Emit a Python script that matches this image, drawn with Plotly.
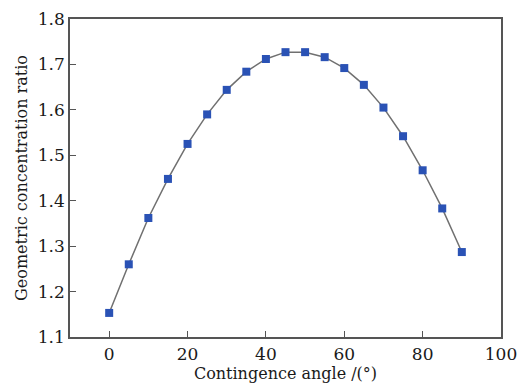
import plotly.graph_objects as go

angles = [0, 5, 10, 15, 20, 25, 30, 35, 40, 45, 50, 55, 60, 65, 70, 75, 80, 85, 90]
ratios = [1.153, 1.260, 1.362, 1.448, 1.525, 1.590, 1.644, 1.684, 1.712, 1.727, 1.727,
          1.716, 1.692, 1.655, 1.605, 1.542, 1.467, 1.383, 1.287]
x_ticks = [0, 20, 40, 60, 80, 100]
y_ticks = [1.1, 1.2, 1.3, 1.4, 1.5, 1.6, 1.7, 1.8]

font = "DejaVu Serif"
fig = go.Figure(go.Scatter(
    x=angles, y=ratios, mode="lines+markers",
    line=dict(color="#707070", width=1.5),
    marker=dict(symbol="square", size=8, color="#2a52b5"),
))
fig.update_layout(
    width=517, height=383,
    margin=dict(l=70, r=16, t=19, b=46),
    paper_bgcolor="white", plot_bgcolor="white",
    showlegend=False,
    font=dict(family=font, size=17, color="#1a1a1a"),
)
fig.update_xaxes(
    range=[-10, 100], tickvals=x_ticks, ticks="inside", ticklen=6,
    tickcolor="#555", showline=True, linecolor="#555", linewidth=1.5, mirror=True,
    showgrid=False, zeroline=False, ticklabeloverflow="allow", ticklabelstandoff=1,
    automargin=False,
    title=dict(text="Contingence angle /(°)", standoff=3, font=dict(size=16)),
    tickfont=dict(size=17),
)
fig.update_yaxes(
    range=[1.1, 1.8], tickvals=y_ticks, tickformat=".1f", ticks="inside", ticklen=6,
    tickcolor="#555", showline=True, linecolor="#555", linewidth=1.5, mirror=True,
    showgrid=False, zeroline=False, automargin=False,
    title=dict(text="Geometric concentration ratio", standoff=6, font=dict(size=16)),
    tickfont=dict(size=17),
)
fig.write_html("out.html")
